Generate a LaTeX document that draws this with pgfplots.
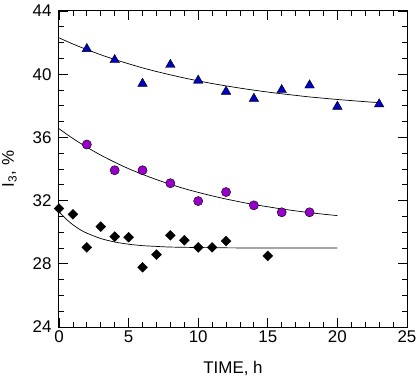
\documentclass[border=0pt]{standalone}
\usepackage{fontspec}
\setmainfont{Liberation Sans}
\usepackage{pgfplots}
\pgfplotsset{compat=1.18}
\usetikzlibrary{calc}
\definecolor{triblue}{RGB}{0,0,190}
\definecolor{cirpurp}{RGB}{150,0,200}
\begin{document}
\begin{tikzpicture}
\begin{axis}[
 name=ax,
 scale only axis, width=348bp, height=316bp,
 xmin=0, xmax=25, ymin=24, ymax=44,
 xtick={0,5,...,25}, ytick={24,28,...,44},
 minor x tick num=4, minor y tick num=3,
 tick align=inside, major tick length=9bp, minor tick length=5bp,
 tick style={black, line width=0.8bp},
 axis line style={line width=1bp},
 /pgf/number format/assume math mode=true,
 ticklabel style={font=\fontsize{17}{20}\selectfont},
 label style={font=\fontsize{17}{20}\selectfont},
 yticklabel style={xshift=-4bp},
 xlabel={TIME, h}, ylabel={I\textsubscript{3}, \%},
 xlabel style={at={([yshift=-46bp]rel axis cs:0.5,0)}, anchor=base},
 ylabel style={at={([xshift=-45bp]rel axis cs:0,0.5)}, anchor=base, rotate=0},
 clip=false,
]
% fit curves
\addplot[black, line width=0.7bp, smooth] coordinates {
(0,42.30)(1,41.91)(2,41.56)(3,41.23)(4,40.93)(5,40.66)(6,40.40)(7,40.17)(8,39.96)(9,39.76)(10,39.58)(11,39.41)(12,39.26)(13,39.12)(14,38.99)(15,38.87)(16,38.76)(17,38.66)(18,38.56)(19,38.48)(20,38.40)(21,38.33)(22,38.26)(23,38.20)};
\addplot[black, line width=0.7bp, smooth] coordinates {
(0,36.55)(1,35.93)(2,35.38)(3,34.88)(4,34.43)(5,34.02)(6,33.66)(7,33.33)(8,33.03)(9,32.76)(10,32.52)(11,32.30)(12,32.10)(13,31.92)(14,31.75)(15,31.61)(16,31.47)(17,31.35)(18,31.24)(19,31.14)(20,31.05)};
\addplot[black, line width=0.7bp, smooth] coordinates {
(0,31.30)(0.5,30.84)(1,30.47)(1.5,30.17)(2,29.94)(3,29.60)(4,29.38)(5,29.24)(6,29.15)(7,29.10)(8,29.06)(10,29.03)(12,29.01)(15,29.00)(20,29.00)};
% data
\addplot[only marks, mark=triangle*, mark size=5.5bp, mark options={fill=triblue, draw=black, line width=0.4bp}] coordinates {
(2,41.6)(4,40.9)(6,39.4)(8,40.6)(10,39.6)(12,38.9)(14,38.45)(16,39.0)(18,39.3)(20,37.95)(23,38.1)};
\addplot[only marks, mark=*, mark size=4.6bp, mark options={fill=cirpurp, draw=black, line width=0.4bp}] coordinates {
(2,35.55)(4,33.92)(6,33.92)(8,33.1)(10,31.97)(12,32.54)(14,31.7)(16,31.26)(18,31.26)};
\addplot[only marks, mark=square*, mark size=3.5bp, mark options={fill=black, draw=black, rotate=45}] coordinates {
(0,31.5)(1,31.13)(2,29.04)(3,30.35)(4,29.72)(5,29.68)(6,27.78)(7,28.58)(8,29.8)(9,29.49)(10,29.04)(11,29.04)(12,29.44)(15,28.5)};
\end{axis}
\pgfresetboundingbox
\path ($(ax.south west)+(-59bp,-51bp)$) rectangle ($(ax.north east)+(10bp,11bp)$);
\end{tikzpicture}
\end{document}
